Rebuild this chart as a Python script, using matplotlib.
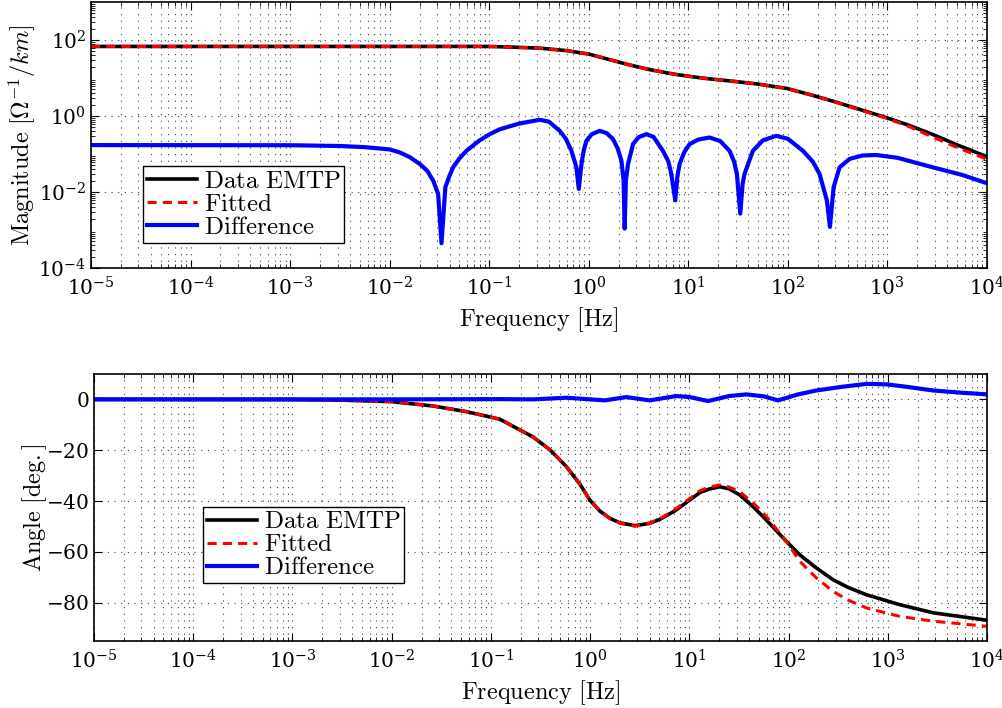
import numpy as np
import matplotlib
matplotlib.use('Agg')
import matplotlib.pyplot as plt
from matplotlib.ticker import LogLocator, NullLocator

plt.rcParams['mathtext.fontset'] = 'cm'
plt.rcParams['font.family'] = 'serif'
plt.rcParams['font.serif'] = ['DejaVu Serif']
plt.rcParams['axes.formatter.use_mathtext'] = True

# --- magnitude plot (values read as log10) ---
mag_f_log = [-5, -3, -2, -1.5, -1, -0.75, -0.5, -0.224, 0, 0.211, 0.4, 0.612,
             0.845, 1.0, 1.2, 1.446, 1.7, 1.99, 2.216, 2.45, 2.7, 2.99, 3.2,
             3.45, 3.7, 4.0]
mag_data_log = [1.83, 1.83, 1.83, 1.83, 1.83, 1.81, 1.786, 1.72, 1.63, 1.482,
                1.35, 1.22, 1.106, 1.046, 0.98, 0.915, 0.84, 0.725, 0.567,
                0.392, 0.19, -0.044, -0.23, -0.48, -0.76, -1.072]
mag_fit_log = [1.83, 1.83, 1.83, 1.83, 1.83, 1.81, 1.786, 1.72, 1.63, 1.482,
               1.35, 1.22, 1.106, 1.046, 0.98, 0.915, 0.84, 0.725, 0.567,
               0.392, 0.18, -0.06, -0.26, -0.55, -0.83, -1.14]

diff_f_log = [-5, -3, -2.5, -2.25, -2, -1.898, -1.8, -1.697, -1.62, -1.563,
              -1.513, -1.479, -1.44, -1.40, -1.362, -1.3, -1.228, -1.1, -0.994,
              -0.894, -0.7, -0.492, -0.4, -0.291, -0.23, -0.174, -0.124, -0.1,
              -0.073, -0.05, -0.023, 0.03, 0.11, 0.18, 0.244, 0.29, 0.328, 0.35,
              0.361, 0.373, 0.395, 0.445, 0.5, 0.579, 0.65, 0.745, 0.8, 0.829,
              0.869, 0.89, 0.913, 0.96, 1.013, 1.1, 1.213, 1.32, 1.414, 1.46,
              1.488, 1.522, 1.545, 1.565, 1.649, 1.75, 1.883, 2.0, 2.151, 2.25,
              2.318, 2.392, 2.423, 2.46, 2.52, 2.62, 2.75, 2.888, 3.1, 3.454,
              3.75, 4.0]
diff_log = [-0.766, -0.77, -0.79, -0.82, -0.88, -0.96, -1.08, -1.263, -1.45,
            -1.70, -2.05, -3.35, -1.87, -1.58, -1.35, -1.12, -0.915, -0.65,
            -0.478, -0.35, -0.2, -0.1, -0.15, -0.392, -0.6, -0.915, -1.35,
            -1.92, -1.26, -0.9, -0.653, -0.48, -0.392, -0.45, -0.61, -0.85,
            -1.176, -1.7, -2.962, -1.7, -1.26, -0.74, -0.56, -0.478, -0.55,
            -0.915, -1.2, -1.524, -2.22, -1.6, -1.26, -0.95, -0.74, -0.62,
            -0.566, -0.66, -0.915, -1.2, -1.524, -2.57, -1.8, -1.524, -0.915,
            -0.64, -0.523, -0.6, -0.915, -1.2, -1.524, -2.22, -2.92, -1.87,
            -1.35, -1.13, -1.04, -1.027, -1.1, -1.35, -1.55, -1.77]

# --- angle plot (degrees) ---
ang_f_log = [-5, -3, -2.5, -2, -1.583, -1.25, -0.91, -0.574, -0.4, -0.238,
             -0.1, -0.003, 0.1, 0.199, 0.3, 0.451, 0.6, 0.703, 0.85, 1.005,
             1.105, 1.2, 1.307, 1.4, 1.508, 1.65, 1.777, 1.979, 2.114, 2.282,
             2.45, 2.6, 2.786, 3.12, 3.457, 3.995]
ang_data = [0, -0.05, -0.3, -0.9, -2.6, -4.8, -7.8, -14.8, -20.0, -26.5, -33.5,
            -39.6, -44.0, -46.8, -48.6, -49.7, -48.8, -47.2, -44.0, -39.6,
            -36.7, -35.3, -34.4, -35.2, -37.6, -42.5, -47.5, -55.9, -61.2,
            -66.4, -71.0, -74.0, -76.9, -80.8, -84.0, -86.9]
ang_fit = [0, -0.05, -0.3, -0.9, -2.6, -4.8, -7.8, -14.8, -20.0, -26.5, -33.5,
           -39.6, -44.0, -46.8, -48.7, -49.9, -48.7, -47.0, -43.5, -39.0,
           -36.0, -34.5, -33.7, -34.5, -36.3, -41.0, -46.1, -55.9, -63.8,
           -70.3, -75.6, -79.0, -82.1, -85.4, -87.3, -89.3]

angdiff_f_log = [-5, -2, -0.91, -0.574, -0.238, 0.148, 0.366, 0.6, 0.868, 1.005,
                 1.19, 1.4, 1.575, 1.75, 1.894, 2.1, 2.28, 2.55, 2.786, 2.99,
                 3.2, 3.457, 3.75, 3.995]
ang_diff = [0, 0, 0.1, 0, 0.65, -0.4, 0.9, -0.4, 1.3, 0.9, -0.65, 1.3, 1.96,
            1.2, -0.4, 2.0, 3.5, 5.0, 6.1, 5.9, 4.9, 3.5, 2.6, 2.0]

fig = plt.figure(figsize=(10.03, 7.08), dpi=100)
ax1 = fig.add_axes([0.0907, 0.6215, 0.8933, 0.3757])
ax2 = fig.add_axes([0.0937, 0.095, 0.8903, 0.3768])

lw = 2.6
ax1.loglog(10**np.array(mag_f_log), 10**np.array(mag_data_log), 'k-', lw=lw, label=r'$\mathrm{Data\ EMTP}$')
ax1.loglog(10**np.array(mag_f_log), 10**np.array(mag_fit_log), 'r--', lw=2.2, dashes=(3, 2), label=r'$\mathrm{Fitted}$')
ax1.loglog(10**np.array(diff_f_log), 10**np.array(diff_log), '-', color='#0000ff', lw=lw + 0.4, label=r'$\mathrm{Difference}$')
ax1.set_xlim(1e-5, 1e4)
ax1.set_ylim(1e-4, 1e3)
ax1.set_yticks([1e-4, 1e-2, 1e0, 1e2])
ax1.yaxis.set_minor_locator(LogLocator(base=10, subs=np.arange(2, 10), numticks=100))
ax1.set_xlabel(r'$\mathrm{Frequency\ [Hz]}$', fontsize=17.5)
ax1.set_ylabel(r'$\mathrm{Magnitude\ [\Omega^{-1}/}km\mathrm{]}$', fontsize=17.5, labelpad=0)

ax2.semilogx(10**np.array(ang_f_log), ang_data, 'k-', lw=lw, label=r'$\mathrm{Data\ EMTP}$')
ax2.semilogx(10**np.array(ang_f_log), ang_fit, 'r--', lw=2.2, dashes=(3, 2), label=r'$\mathrm{Fitted}$')
ax2.semilogx(10**np.array(angdiff_f_log), ang_diff, '-', color='#0000ff', lw=lw + 0.4, label=r'$\mathrm{Difference}$')
ax2.set_xlim(1e-5, 1e4)
ax2.set_ylim(-95, 10)
ax2.set_yticks([-80, -60, -40, -20, 0])
ax2.yaxis.set_minor_locator(NullLocator())
ax2.set_xlabel(r'$\mathrm{Frequency\ [Hz]}$', fontsize=17.5)
ax2.set_ylabel(r'$\mathrm{Angle\ [deg.]}$', fontsize=17.5, labelpad=-2)

grid_style = dict(linestyle=(0, (1, 5)), color='0.25', linewidth=0.8)
for ax in (ax1, ax2):
    ax.set_xticks([10.0**k for k in range(-5, 5)])
    ax.xaxis.set_minor_locator(LogLocator(base=10, subs=np.arange(2, 10), numticks=100))
    ax.grid(True, which='major', axis='both', **grid_style)
    ax.grid(True, which='minor', axis='x', **grid_style)
    ax.tick_params(which='both', direction='in', top=True, right=True, labelsize=14.5)
    ax.tick_params(which='major', length=6)
    ax.tick_params(which='minor', length=3)
    ax.tick_params(axis='x', pad=6)
    for s in ax.spines.values():
        s.set_linewidth(1.2)

leg_kw = dict(fontsize=18, fancybox=False, framealpha=1, edgecolor='k',
              handlelength=2.0, labelspacing=0.0, borderpad=0.15, handletextpad=0.3,
              borderaxespad=0)
l1 = ax1.legend(loc='lower left', bbox_to_anchor=(0.058, 0.094), **leg_kw)
l2 = ax2.legend(loc='lower left', bbox_to_anchor=(0.122, 0.216), **leg_kw)
for l in (l1, l2):
    l.get_frame().set_linewidth(1.0)

fig.savefig('out.png', dpi=100)
